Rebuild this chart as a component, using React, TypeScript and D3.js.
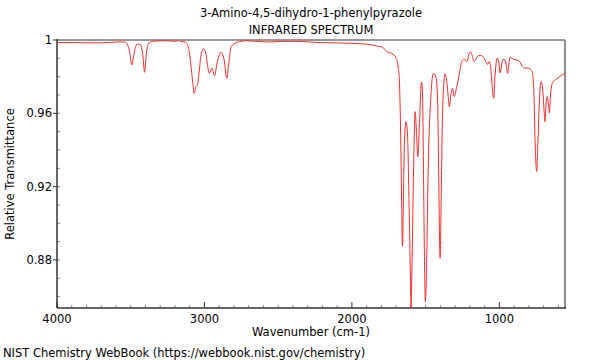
import React, { useEffect, useRef } from 'react';
import * as d3 from 'd3';

// spectrum (cm-1, relative transmittance)
const wavenumbers = [
  3998, 3876, 3740, 3639, 3557, 3530, 3510, 3492, 3476, 3456,
  3435, 3418, 3406, 3395, 3381, 3354, 3266, 3191, 3178, 3157,
  3130, 3108, 3092, 3080, 3069, 3059, 3047, 3035, 3022, 3006,
  2991, 2978, 2966, 2949, 2932, 2913, 2888, 2869, 2848, 2836,
  2819, 2780, 2712, 2577, 2453, 2351, 2215, 2080, 1978, 1910,
  1863, 1831, 1795, 1761, 1729, 1700, 1685, 1677, 1670, 1663,
  1657, 1651, 1643, 1633, 1623, 1613, 1604, 1599, 1592, 1582,
  1571, 1563, 1553, 1541, 1528, 1521, 1514, 1507, 1502, 1493,
  1483, 1466, 1447, 1429, 1419, 1411, 1402, 1393, 1385, 1368,
  1357, 1348, 1339, 1329, 1318, 1307, 1289, 1273, 1255, 1239,
  1222, 1199, 1187, 1172, 1142, 1119, 1097, 1081, 1068, 1056,
  1048, 1039, 1029, 1016, 1005, 995, 985, 977, 961, 951,
  944, 936, 928, 905, 880, 860, 846, 832, 812, 792,
  776, 765, 758, 747, 738, 728, 717, 707, 697, 691,
  684, 675, 668, 661, 653, 641, 622, 602, 577, 554,
];
const transmittance = [
  0.9986, 0.9986, 0.9984, 0.9987, 0.9990, 0.9984, 0.9945, 0.9864, 0.9935, 0.9978,
  0.9975, 0.9918, 0.9824, 0.9918, 0.9978, 0.9993, 0.9996, 0.9993, 0.9997, 0.9992,
  0.9989, 0.9955, 0.9864, 0.9771, 0.9709, 0.9744, 0.9755, 0.9836, 0.9924, 0.9951,
  0.9929, 0.9858, 0.9818, 0.9846, 0.9805, 0.9880, 0.9933, 0.9902, 0.9791, 0.9864,
  0.9963, 0.9987, 0.9996, 0.9989, 0.9993, 0.9992, 0.9986, 0.9984, 0.9981, 0.9978,
  0.9973, 0.9967, 0.9962, 0.9935, 0.9927, 0.9900, 0.9846, 0.9755, 0.9509, 0.9127,
  0.8876, 0.9127, 0.9454, 0.9554, 0.9482, 0.9127, 0.8745, 0.8538, 0.8800, 0.9291,
  0.9609, 0.9509, 0.9363, 0.9564, 0.9771, 0.9700, 0.9236, 0.8745, 0.8572, 0.8800,
  0.9291, 0.9673, 0.9818, 0.9793, 0.9673, 0.9236, 0.8809, 0.9236, 0.9618, 0.9815,
  0.9773, 0.9700, 0.9636, 0.9700, 0.9737, 0.9691, 0.9745, 0.9809, 0.9882, 0.9896,
  0.9882, 0.9936, 0.9922, 0.9882, 0.9915, 0.9914, 0.9891, 0.9867, 0.9882, 0.9827,
  0.9738, 0.9682, 0.9809, 0.9900, 0.9882, 0.9820, 0.9864, 0.9894, 0.9891, 0.9847,
  0.9818, 0.9864, 0.9905, 0.9895, 0.9891, 0.9880, 0.9858, 0.9847, 0.9847, 0.9842,
  0.9820, 0.9684, 0.9454, 0.9282, 0.9454, 0.9673, 0.9773, 0.9738, 0.9618, 0.9554,
  0.9645, 0.9691, 0.9651, 0.9603, 0.9700, 0.9764, 0.9782, 0.9793, 0.9809, 0.9818,
];

const xTicks = [4000, 3000, 2000, 1000];
const yTicks = [1, 0.96, 0.92, 0.88];
const yTickLabels = ['1', '0.96', '0.92', '0.88'];
const titleLines = ['3-Amino-4,5-dihydro-1-phenylpyrazole', 'INFRARED SPECTRUM'];
const xLabel = 'Wavenumber (cm-1)';
const yLabel = 'Relative Transmittance';
const footer = 'NIST Chemistry WebBook (https://webbook.nist.gov/chemistry)';

const W = 600;
const H = 360;
const margin = { top: 40, right: 35, bottom: 52, left: 57 };
const font = 'DejaVu Sans, sans-serif';
const fs = 11.5;

const App = () => {
  const ref = useRef(null);

  useEffect(() => {
    const svg = d3.select(ref.current);
    svg.selectAll('*').remove();

    const x = d3.scaleLinear().domain([4000, 555]).range([margin.left, W - margin.right]);
    const y = d3.scaleLinear().domain([0.8538, 1]).range([H - margin.bottom, margin.top]);
    const x0 = margin.left, x1 = W - margin.right;
    const y0 = H - margin.bottom, y1 = margin.top;

    svg.append('defs').append('clipPath').attr('id', 'plot-clip')
      .append('rect')
      .attr('x', x0).attr('y', y1)
      .attr('width', x1 - x0).attr('height', y0 - y1);

    // frame: gray top/right, dark left/bottom
    svg.append('line').attr('x1', x0).attr('x2', x1).attr('y1', y1).attr('y2', y1)
      .attr('stroke', '#999').attr('stroke-width', 2);
    svg.append('line').attr('x1', x1).attr('x2', x1).attr('y1', y1).attr('y2', y0)
      .attr('stroke', '#666').attr('stroke-width', 1.5);

    // x minor ticks
    const xMinor = d3.range(600, 4001, 100);
    svg.append('g').selectAll('line').data(xMinor).enter().append('line')
      .attr('x1', d => x(d)).attr('x2', d => x(d))
      .attr('y1', y0).attr('y2', d => xTicks.includes(d) ? y0 - 6 : y0 - 3)
      .attr('stroke', d => xTicks.includes(d) ? '#333' : '#888').attr('stroke-width', 1);

    // y minor ticks
    const yMinor = d3.range(0.86, 1.0001, 0.01);
    svg.append('g').selectAll('line').data(yMinor).enter().append('line')
      .attr('x1', x0).attr('x2', x0 + 3)
      .attr('y1', d => y(d)).attr('y2', d => y(d))
      .attr('stroke', '#888').attr('stroke-width', 1);
    svg.append('g').selectAll('line').data(yTicks).enter().append('line')
      .attr('x1', x0 - 4).attr('x2', x0)
      .attr('y1', d => y(d)).attr('y2', d => y(d))
      .attr('stroke', '#333').attr('stroke-width', 1);

    svg.append('line').attr('x1', x0).attr('x2', x0).attr('y1', y1 - 1).attr('y2', y0)
      .attr('stroke', '#333').attr('stroke-width', 1.5);
    svg.append('line').attr('x1', x0).attr('x2', x1 + 1).attr('y1', y0).attr('y2', y0)
      .attr('stroke', '#333').attr('stroke-width', 1.5);

    // tick labels
    svg.append('g').selectAll('text').data(xTicks).enter().append('text')
      .attr('x', d => x(d)).attr('y', y0 + 15)
      .attr('text-anchor', 'middle').attr('font-family', font).attr('font-size', fs)
      .text(d => d);
    svg.append('g').selectAll('text').data(yTicks).enter().append('text')
      .attr('x', x0 - 5).attr('y', d => y(d) + 4)
      .attr('text-anchor', 'end').attr('font-family', font).attr('font-size', fs)
      .text((d, i) => yTickLabels[i]);

    // spectrum
    const pts = wavenumbers.map((w, i) => [w, transmittance[i]]);
    const line = d3.line()
      .x(d => x(d[0]))
      .y(d => y(d[1]))
      .curve(d3.curveMonotoneX);
    svg.append('path')
      .datum(pts)
      .attr('clip-path', 'url(#plot-clip)')
      .attr('fill', 'none')
      .attr('stroke', '#ff2a2a')
      .attr('stroke-width', 1)
      .attr('d', line);

    // titles and labels
    const cx = (x0 + x1) / 2;
    titleLines.forEach((t, i) => {
      svg.append('text').attr('x', cx).attr('y', 17 + i * 17)
        .attr('text-anchor', 'middle').attr('font-family', font).attr('font-size', fs)
        .text(t);
    });
    svg.append('text').attr('x', cx).attr('y', 336)
      .attr('text-anchor', 'middle').attr('font-family', font).attr('font-size', fs)
      .text(xLabel);
    svg.append('text')
      .attr('transform', `translate(14,${(y0 + y1) / 2}) rotate(-90)`)
      .attr('text-anchor', 'middle').attr('font-family', font).attr('font-size', fs)
      .text(yLabel);
    svg.append('text').attr('x', 3).attr('y', 357)
      .attr('font-family', font).attr('font-size', fs)
      .text(footer);
  }, []);

  return (
    <svg ref={ref} width={W} height={H}
      style={{ position: 'absolute', left: 0, top: 0, background: '#fff' }} />
  );
};

export default App;
